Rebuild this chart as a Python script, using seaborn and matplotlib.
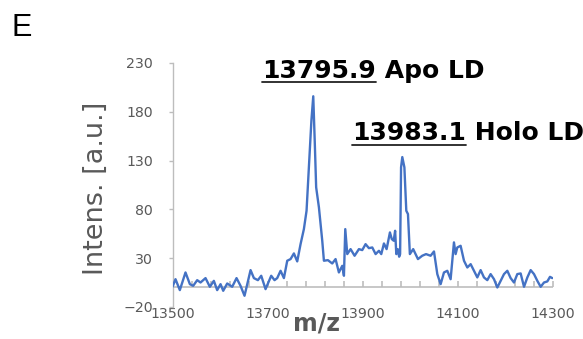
import matplotlib
matplotlib.use("Agg")
import matplotlib.pyplot as plt
from matplotlib.lines import Line2D
import numpy as np
import pandas as pd
import seaborn as sns

# MALDI spectrum of the LD domain (m/z vs intensity)
mz = [
    13500.0, 13506.3, 13515.4, 13527.3, 13536.5, 13543.5, 13551.9, 13558.9,
    13569.4, 13578.5, 13586.9, 13593.9, 13601.0, 13606.6, 13615.0, 13625.5,
    13634.6, 13643.0, 13651.4, 13664.1, 13671.1, 13679.5, 13686.5, 13695.6,
    13707.5, 13714.5, 13720.1, 13727.2, 13734.2, 13741.2, 13748.2, 13755.2,
    13762.2, 13769.2, 13776.2, 13781.8, 13786.7, 13792.0, 13795.9, 13799.0,
    13802.0, 13807.8, 13814.8, 13818.3, 13826.7, 13835.8, 13842.8, 13849.8,
    13856.9, 13860.4, 13863.2, 13867.4, 13874.4, 13882.8, 13891.9, 13898.9,
    13905.9, 13912.9, 13920.0, 13927.0, 13934.0, 13938.9, 13944.5, 13950.1,
    13957.1, 13961.0, 13965.0, 13968.0, 13970.5, 13973.5, 13976.5, 13978.5,
    13980.5, 13983.1, 13987.5, 13991.5, 13995.0, 13999.0, 14006.0, 14016.0,
    14025.0, 14033.0, 14042.6, 14049.7, 14056.7, 14063.7, 14070.7, 14077.7,
    14084.7, 14091.7, 14095.2, 14098.7, 14105.7, 14112.8, 14119.8, 14126.8,
    14133.8, 14140.8, 14147.8, 14154.8, 14161.8, 14168.8, 14175.9, 14182.9,
    14189.9, 14196.9, 14203.9, 14210.9, 14217.9, 14224.9, 14231.9, 14239.0,
    14246.0, 14253.0, 14260.0, 14267.0, 14274.0, 14281.0, 14288.0, 14293.6,
    14298.5,
]
intensity = [
    0.7, 8.5, -2.7, 15.4, 3.4, 1.7, 7.5, 5.1,
    9.6, 0.7, 6.8, -2.7, 3.4, -3.4, 4.1, 0.7,
    9.6, 1.7, -8.5, 17.8, 9.6, 7.5, 12.0, -1.7,
    12.0, 7.5, 9.6, 17.1, 9.6, 27.4, 29.1, 34.9,
    26.7, 44.4, 59.8, 78.6, 123.1, 171.0, 195.9, 150.0,
    102.6, 82.1, 47.9, 27.4, 28.0, 24.6, 29.1, 15.4,
    22.2, 12.0, 59.8, 34.2, 39.3, 32.5, 39.3, 38.3,
    44.4, 40.3, 41.0, 34.2, 37.6, 34.2, 45.1, 39.3,
    56.4, 49.6, 47.9, 58.1, 34.2, 39.3, 31.5, 34.2,
    123.1, 133.6, 123.1, 78.6, 75.2, 34.2, 39.3, 29.1,
    32.5, 34.2, 32.5, 36.9, 13.7, 3.4, 15.4, 17.1,
    8.5, 46.2, 34.2, 41.0, 42.7, 27.4, 20.5, 23.9,
    17.1, 10.3, 17.8, 10.3, 7.5, 13.7, 8.5, 0.0,
    6.8, 13.7, 17.1, 9.6, 5.1, 13.7, 14.4, 0.7,
    10.3, 17.8, 13.7, 6.8, 0.7, 5.1, 6.2, 10.9,
    9.6,
]

x_ticks = [13500, 13700, 13900, 14100, 14300]
x_minor = list(range(13500, 14301, 40))
y_ticks = [-20, 30, 80, 130, 180, 230]

peak_labels = [("13795.9", " Apo LD", 13688, 215), ("13983.1", " Holo LD", 13877, 151)]

sns.set_theme(style="white")
plt.rcParams["font.family"] = ["DejaVu Sans"]

GRAY_TXT = "#595959"
GRAY_AX = "#BDBDBD"
BLUE = "#4472C4"

df = pd.DataFrame({"m/z": mz, "Intens": intensity})

fig = plt.figure(figsize=(5.83, 3.39), dpi=100)
ax = fig.add_axes([0.2959, 0.0944, 0.6527, 0.7198])

sns.lineplot(data=df, x="m/z", y="Intens", ax=ax, color=BLUE, linewidth=1.7,
             sort=False, zorder=3)

# horizontal axis line at zero with small upward ticks
ax.plot([13500, 14300], [0, 0], color=GRAY_AX, linewidth=1.2, zorder=2.5,
        solid_capstyle="butt")
ax.plot(x_minor, [0] * len(x_minor), linestyle="none", marker=2,
        markersize=4, markeredgewidth=1.2, color=GRAY_AX, zorder=2.5)

ax.set_xlim(13500, 14300)
ax.set_ylim(-20, 230)

for s in ["top", "right", "bottom"]:
    ax.spines[s].set_visible(False)
ax.spines["left"].set_color(GRAY_AX)
ax.spines["left"].set_linewidth(1.0)

ax.set_yticks(y_ticks)
ax.set_xticks(x_ticks)
ax.tick_params(axis="y", left=True, length=3, width=1.0, color=GRAY_AX,
               labelcolor=GRAY_TXT, labelsize=10.2, pad=11)
ax.tick_params(axis="x", bottom=False, length=0, labelcolor=GRAY_TXT,
               labelsize=10.2, pad=0)

ax.set_xlabel("m/z", fontsize=17, fontweight="bold", color=GRAY_TXT, va="top")
ax.xaxis.set_label_coords(0.378, -0.02)
ax.set_ylabel("Intens. [a.u.]", fontsize=19.5, color=GRAY_TXT)
ax.yaxis.set_label_coords(-0.166, 0.485)

fig.text(12 / 583, 1 - 13 / 339, "E", fontsize=22, va="top", ha="left",
         family=["Liberation Sans", "DejaVu Sans"], color="black")

fig.canvas.draw()
renderer = fig.canvas.get_renderer()
for num, rest, x0, y0 in peak_labels:
    t_num = ax.text(x0, y0, num, fontsize=18, fontweight="bold", color="black",
                    ha="left", va="baseline", zorder=5)
    ax.annotate(rest, xy=(1, 0), xycoords=t_num, fontsize=18, fontweight="bold",
                color="black", ha="left", va="bottom", zorder=5)
    fig.canvas.draw()
    bb = t_num.get_window_extent(renderer).transformed(fig.transFigure.inverted())
    base = ax.transData.transform((x0, y0))
    base_fig = fig.transFigure.inverted().transform(base)
    yline = base_fig[1] - 4.5 / 339
    fig.add_artist(Line2D([bb.x0, bb.x1], [yline, yline], color="#222222",
                          linewidth=1.3, transform=fig.transFigure))

fig.savefig("out.png", dpi=100)
